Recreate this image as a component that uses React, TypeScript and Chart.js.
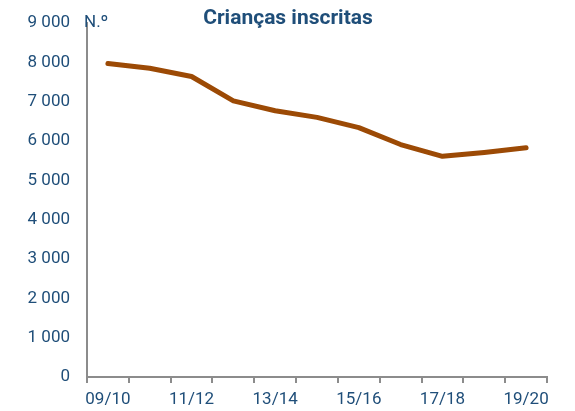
import React, { useEffect, useRef } from "react";
import { Chart, registerables } from "chart.js";

Chart.register(...registerables);

const categories = ["09/10", "10/11", "11/12", "12/13", "13/14", "14/15", "15/16", "16/17", "17/18", "18/19", "19/20"];
const enrolled = [7970, 7850, 7640, 7020, 6770, 6600, 6340, 5910, 5610, 5710, 5830];
const yTicks = [0, 1000, 2000, 3000, 4000, 5000, 6000, 7000, 8000, 9000];
const titleText = "Crianças inscritas";
const unitText = "N.º";

const TEXT = "#1F4E79";
const LINE = "#9C4A05";
const AXIS = "#8C8C8C";

function fmt(v: number) {
  return String(v).replace(/\B(?=(\d{3})+(?!\d))/g, " ");
}

const overlay = {
  id: "overlay",
  afterDraw(chart: any) {
    const { ctx, chartArea } = chart;
    ctx.save();
    ctx.fillStyle = TEXT;
    ctx.textBaseline = "alphabetic";
    ctx.font = "bold 21px Roboto";
    ctx.textAlign = "center";
    ctx.fillText(titleText, 288, 24);
    ctx.font = "17px Roboto";
    ctx.textAlign = "left";
    ctx.textBaseline = "middle";
    ctx.fillText(unitText, chartArea.left - 3, chartArea.top);
    ctx.restore();
  },
};

export default function App() {
  const ref = useRef<HTMLCanvasElement>(null);
  useEffect(() => {
    document.body.style.margin = "0";
    const chart = new Chart(ref.current!, {
      type: "line",
      data: {
        labels: categories,
        datasets: [
          {
            data: enrolled,
            borderColor: LINE,
            borderWidth: 5,
            pointRadius: 0,
            tension: 0,
            borderCapStyle: "round",
            borderJoinStyle: "round",
          },
        ],
      },
      options: {
        animation: false,
        responsive: false,
        layout: { padding: { top: 23, right: 28, bottom: 3, left: 0 } },
        plugins: { legend: { display: false }, tooltip: { enabled: false }, title: { display: false } },
        scales: {
          x: {
            offset: true,
            afterFit: (s: any) => {
              s.paddingLeft = 0;
              s.paddingRight = 0;
              s.height = 31;
            },
            grid: { display: true, drawOnChartArea: false, drawTicks: true, tickLength: 6, offset: true, color: AXIS, lineWidth: 2 },
            border: { display: true, color: AXIS, width: 2 },
            ticks: {
              autoSkip: false,
              maxRotation: 0,
              color: TEXT,
              font: { family: "Roboto", size: 17, lineHeight: 1 },
              padding: 8,
              callback: (_v: any, i: number) => (i % 2 === 0 ? categories[i] : ""),
            },
          },
          y: {
            min: 0,
            max: 9000,
            afterFit: (s: any) => {
              s.width = 87;
              s.paddingTop = 0;
              s.paddingBottom = 0;
            },
            afterBuildTicks: (s: any) => {
              s.ticks = yTicks.map((v) => ({ value: v }));
            },
            grid: { display: false, drawTicks: false },
            border: { display: true, color: AXIS, width: 2 },
            ticks: {
              color: TEXT,
              font: { family: "Roboto", size: 17 },
              padding: 17,
              callback: (v: any) => fmt(Number(v)),
            },
          },
        },
      },
      plugins: [overlay],
    });
    return () => chart.destroy();
  }, []);
  return (
    <div style={{ width: 575, height: 411 }}>
      <canvas ref={ref} width={575} height={411} style={{ display: "block" }} />
    </div>
  );
}
